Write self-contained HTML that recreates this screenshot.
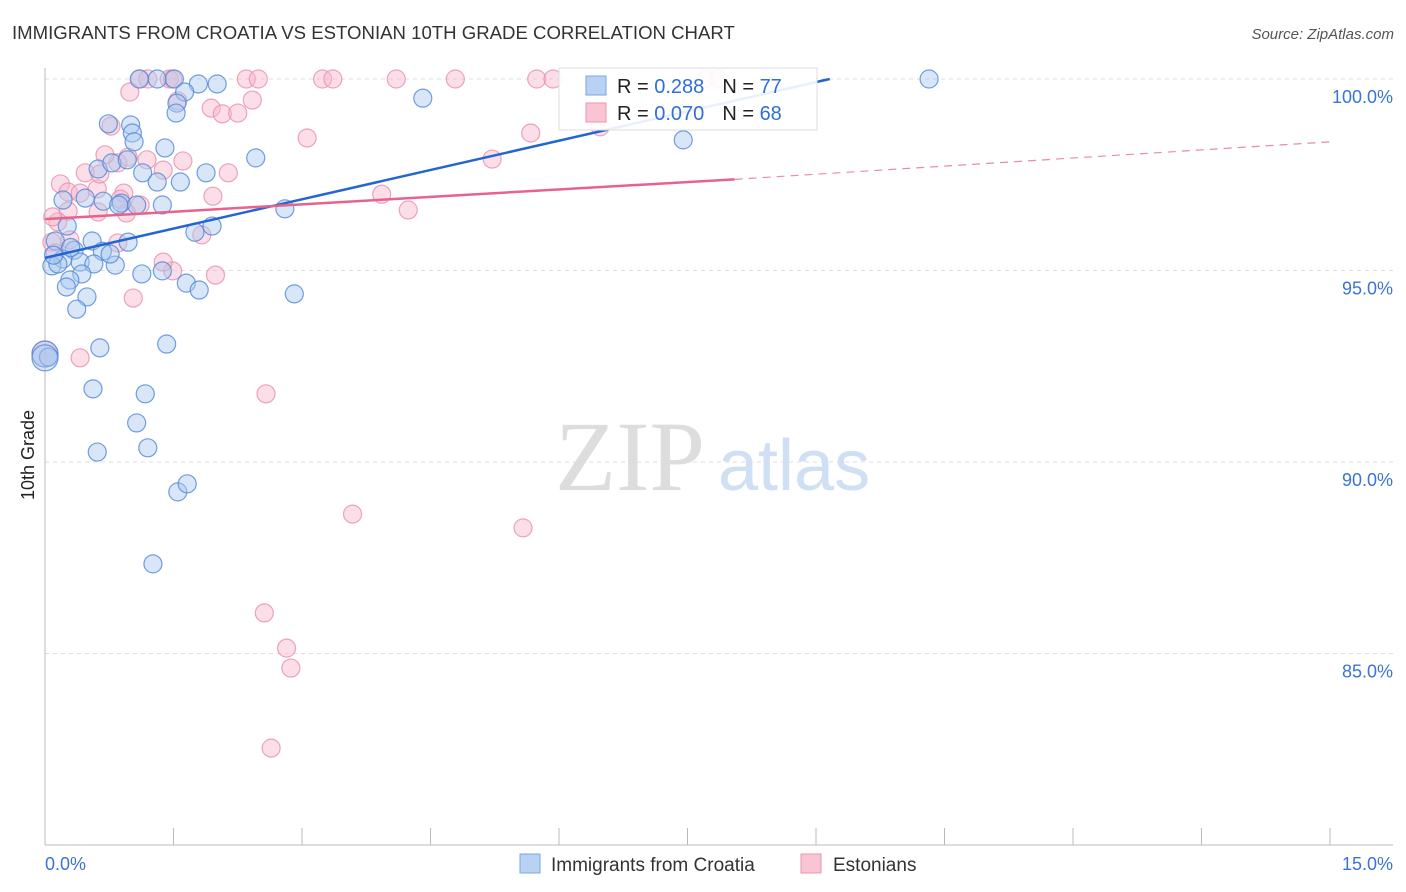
<!DOCTYPE html>
<html><head><meta charset="utf-8">
<style>
body{margin:0;background:#fff;font-family:"Liberation Sans",sans-serif;}
svg{display:block}
</style></head>
<body>
<svg id="chart" width="1406" height="892" xmlns="http://www.w3.org/2000/svg">
<text x="12" y="39" font-size="18.6" fill="#333">IMMIGRANTS FROM CROATIA VS ESTONIAN 10TH GRADE CORRELATION CHART</text>
<text x="1394" y="39" font-size="15" fill="#555" font-style="italic" text-anchor="end">Source: ZipAtlas.com</text>
<text x="34" y="455" font-size="18" fill="#222" transform="rotate(-90 34 455)" text-anchor="middle">10th Grade</text>
<g>
<text x="555" y="490" font-size="100" fill="#ddd" font-family="Liberation Serif,serif">ZIP</text>
<text x="718" y="490" font-size="72" fill="#cfe0f4">atlas</text>
</g>
<g id="grid"></g><g id="pts"></g><g id="trend"></g>
<g>
<rect x="559" y="68" width="258" height="62" fill="#fff" fill-opacity="0.9" stroke="#ddd"/>
<rect x="586" y="76" width="20" height="19" fill="#b8d2f4" stroke="#7aa6e0"/>
<rect x="586" y="103" width="20" height="19" fill="#f9c5d4" stroke="#eb95b0"/>
<text x="617" y="93" font-size="20" fill="#222">R = <tspan fill="#2f6fd6"> 0.288</tspan><tspan dx="18">N = </tspan><tspan fill="#2f6fd6">77</tspan></text>
<text x="617" y="120" font-size="20" fill="#222">R = <tspan fill="#2f6fd6">0.070</tspan><tspan dx="18">N = </tspan><tspan fill="#2f6fd6">68</tspan></text>
</g>
<g>
<rect x="520" y="854" width="20" height="19" fill="#b8d2f4" stroke="#7aa6e0"/>
<text x="551" y="871" font-size="19" fill="#333">Immigrants from Croatia</text>
<rect x="801" y="854" width="20" height="19" fill="#f9c5d4" stroke="#eb95b0"/>
<text x="833" y="871" font-size="19" fill="#333">Estonians</text>
</g>
<text x="45" y="870" font-size="18" fill="#3a74d4">0.0%</text>
<text x="1393" y="870" font-size="18" fill="#3a74d4" text-anchor="end">15.0%</text>
</svg>
<script>
const yTicks=[100,95,90,85];
const yTickLabels=["100.0%","95.0%","90.0%","85.0%"];
const xTicks=[0,1.5,3,4.5,6,7.5,9,10.5,12,13.5,15];
const croatiaX=[1.1,1.31,1.51,1.79,2.01,1.63,1.54,1.53,4.41,0.74,1.0,1.02,1.04,1.4,7.45,2.46,0.62,0.78,0.96,1.14,1.31,1.58,1.88,0.47,0.68,0.89,1.07,0.21,1.37,0.86,2.8,1.95,0.26,0.12,0.55,0.97,0.34,0.67,0.21,0.08,0.15,0.41,0.57,0.82,0.76,1.13,1.37,0.43,0.29,0.25,1.65,1.8,2.91,0.49,0.37,0.64,1.42,0.0,0.04,0.0,0.56,1.17,1.07,1.2,0.61,1.55,1.66,1.26,10.32,1.75,0.1,0.3];
const croatiaY=[100,100,100,99.87,99.87,99.66,99.37,99.11,99.5,98.83,98.8,98.59,98.36,98.2,98.41,97.94,97.65,97.81,97.89,97.55,97.31,97.31,97.55,96.89,96.81,96.76,96.71,96.84,96.71,96.71,96.61,96.16,96.16,95.77,95.77,95.74,95.53,95.5,95.3,95.12,95.17,95.22,95.17,95.14,95.43,94.91,94.99,94.91,94.75,94.57,94.67,94.49,94.39,94.31,93.99,92.98,93.08,92.82,92.74,92.72,91.91,91.78,91.02,90.37,90.26,89.22,89.43,87.34,100,96.0,95.4,95.6];
const estX=[1.11,1.2,1.45,1.49,0.99,2.35,2.49,3.24,3.36,4.1,4.79,5.74,5.93,7.71,7.86,1.55,1.94,2.07,2.25,2.42,0.77,3.06,5.67,6.48,5.22,0.85,0.7,0.97,1.19,1.61,0.47,2.14,1.38,0.18,0.27,0.41,0.61,0.92,1.11,1.96,3.93,4.24,0.27,0.62,0.95,0.15,1.83,0.29,0.85,0.08,0.0,0.41,1.49,1.99,1.03,1.38,2.58,3.59,5.58,2.56,2.82,2.87,2.64,0.12,0.88,0.64,0.09];
const estY=[100,100,100,100,99.66,100,100,100,100,100,100,100,100,100,100,99.43,99.24,99.09,99.11,99.45,98.77,98.46,98.59,98.75,97.91,97.81,98.02,97.96,97.89,97.86,97.55,97.55,97.62,97.26,97.05,97.02,97.13,97.02,96.71,96.94,96.99,96.58,96.55,96.53,96.5,96.27,95.93,95.8,95.72,95.74,92.82,92.72,94.99,94.88,94.28,95.22,91.78,88.64,88.28,86.06,85.14,84.62,82.53,95.46,96.86,97.52,96.4];
const croatiaTrend=[[0,95.33],[9.16,100]];
const estTrendSolid=[[0,96.34],[8.05,97.38]];
const estTrendDash=[[8.05,97.38],[15,98.36]];
const NS="http://www.w3.org/2000/svg";
const X0=45,X1=1330,Y0=79,PPY=38.3;
function sx(v){return X0+(v/15)*(X1-X0);}
function sy(v){return Y0+(100-v)*PPY;}
function mk(tag,attrs,parent){const e=document.createElementNS(NS,tag);for(const k in attrs)e.setAttribute(k,attrs[k]);parent.appendChild(e);return e;}
const grid=document.getElementById('grid');
yTicks.forEach((t,i)=>{
 const l=mk('line',{x1:X0,x2:1393,y1:sy(t),y2:sy(t),stroke:'#ddd','stroke-dasharray':'4,4'},grid);
 
 
 const tx=mk('text',{x:1393,y:sy(t)+24,'font-size':18,fill:'#3a74d4','text-anchor':'end'},grid);
 tx.textContent=yTickLabels[i];
 
 
});
const ax=mk('line',{x1:X0,x2:X0,y1:68,y2:845,stroke:'#bbb'},grid);


const bx=mk('line',{x1:X0,x2:1393,y1:845,y2:845,stroke:'#bbb'},grid);


xTicks.forEach(t=>{
 const l=mk('line',{x1:sx(t),x2:sx(t),y1:828,y2:845,stroke:'#bbb'},grid);
 
 
});
const pts=document.getElementById('pts');
function drawPts(xs,ys,fill,stroke,name){
 xs.forEach((x,i)=>{
  const r=(x===0&&ys[i]<93.5)?13:9;
  const c=mk('circle',{cx:sx(x),cy:sy(ys[i]),r:r,fill:fill,'fill-opacity':0.45,stroke:stroke,'stroke-opacity':0.8,'stroke-width':1.2},pts);
  
  
 });
}
drawPts(estX,estY,'#f6b6c9','#ea8fab','point-estonians');
drawPts(croatiaX,croatiaY,'#a9c8f0','#4f87d8','point-croatia');
const tr=document.getElementById('trend');
function line(p,color,dash,name,w){
 const l=mk('line',{x1:sx(p[0][0]),y1:sy(p[0][1]),x2:sx(p[1][0]),y2:sy(p[1][1]),stroke:color,'stroke-width':w},tr);
 if(dash)l.setAttribute('stroke-dasharray',dash);
 
 
}
line(croatiaTrend,'#2366d1',null,'trend-croatia',2.5);
line(estTrendSolid,'#e8628d',null,'trend-estonians',2.5);
line(estTrendDash,'#eb8aa8','8,6','trend-estonians-extension',1.2);
</script>
</body></html>
